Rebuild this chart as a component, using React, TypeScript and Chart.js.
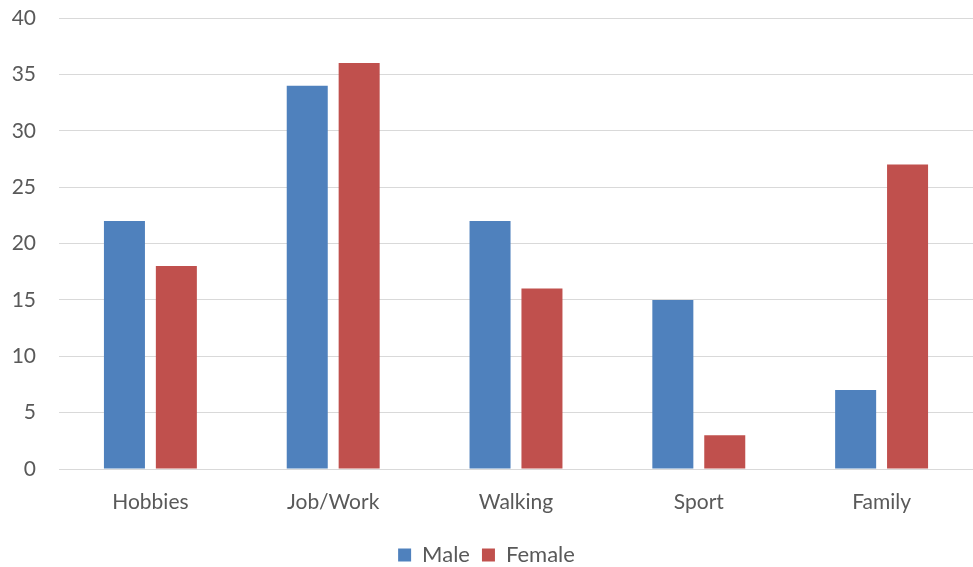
import React, { useEffect, useRef } from "react";
import { Chart, registerables } from "chart.js";

Chart.register(...registerables);

const categories = ["Hobbies", "Job/Work", "Walking", "Sport", "Family"];
const maleValues = [22, 34, 22, 15, 7];
const femaleValues = [18, 36, 16, 3, 27];
const seriesNames = ["Male", "Female"];

const FONT = "Lato, 'Open Sans', sans-serif";
const TEXT = "#595959";

export default function App() {
  const ref = useRef<HTMLCanvasElement | null>(null);

  useEffect(() => {
    document.body.style.margin = "0";
    const ctx = ref.current!;
    const chart = new Chart(ctx, {
      type: "bar",
      data: {
        labels: categories,
        datasets: [
          {
            label: seriesNames[0],
            data: maleValues,
            backgroundColor: "#4F81BD",
            categoryPercentage: 0.568,
            barPercentage: 0.79,
          },
          {
            label: seriesNames[1],
            data: femaleValues,
            backgroundColor: "#C0504D",
            categoryPercentage: 0.568,
            barPercentage: 0.79,
          },
        ],
      },
      options: {
        animation: false,
        responsive: false,
        maintainAspectRatio: false,
        layout: { padding: { top: 18, right: 0, left: 0, bottom: -9 } },
        plugins: {
          tooltip: { enabled: false },
          legend: {
            position: "bottom",
            labels: {
              boxWidth: 13,
              boxHeight: 13,
              color: TEXT,
              font: { family: FONT, size: 22 },
              padding: 12,
            },
          },
        },
        scales: {
          x: {
            grid: { display: false, drawTicks: false },
            border: { display: true, color: "#d9d9d9", width: 1 },
            ticks: {
              color: TEXT,
              font: { family: FONT, size: 21 },
              padding: 21,
            },
            afterFit: (s: any) => {
              s.height = 63;
            },
          },
          y: {
            min: 0,
            max: 40,
            ticks: {
              stepSize: 5,
              color: TEXT,
              font: { family: FONT, size: 21 },
              padding: 23,
            },
            grid: { color: "#d9d9d9", lineWidth: 1, drawTicks: false },
            border: { display: false },
            afterFit: (s: any) => {
              s.width = 59;
              s.paddingTop = 0;
              s.paddingBottom = 0;
            },
          },
        },
      },
    });
    return () => chart.destroy();
  }, []);

  return (
    <div style={{ position: "absolute", left: 0, top: 0, width: 973, height: 567 }}>
      <canvas ref={ref} width={973} height={567} style={{ width: 973, height: 567 }} />
    </div>
  );
}
